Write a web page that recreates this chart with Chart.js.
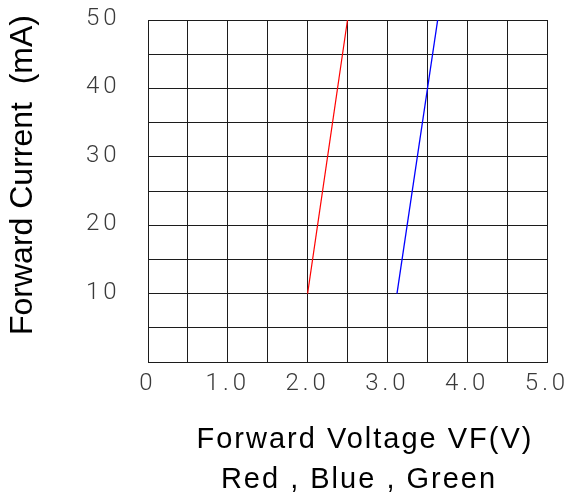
<!DOCTYPE html>
<html>
<head>
<meta charset="utf-8">
<script src="https://cdn.jsdelivr.net/npm/chart.js@4"></script>
<style>
  html, body { margin: 0; padding: 0; background: #fff; }
  #wrap { width: 567px; height: 495px; }
</style>
</head>
<body>
<div id="wrap"><canvas id="c" width="567" height="495"></canvas></div>
<script>
// ---- data ----
const redVoltage = [2.0, 2.5];
const redCurrent = [10, 50];
const blueVoltage = [3.12, 3.63];
const blueCurrent = [10, 50];

const xTickValues = [0, 1, 2, 3, 4, 5];
const xTickLabels = ['0', '1.0', '2.0', '3.0', '4.0', '5.0'];
const yTickValues = [10, 20, 30, 40, 50];
const yTickLabels = ['10', '20', '30', '40', '50'];

const yTitle = 'Forward Current  (mA)';
const xTitleLines = ['Forward Voltage VF(V)', 'Red , Blue , Green'];

function toPoints(xs, ys) { return xs.map((x, i) => ({ x: x, y: ys[i] })); }

const gridColor = '#1c1c1c';

const spacingPlugin = {
  id: 'tickSpacing',
  beforeDraw(chart) { chart.ctx.letterSpacing = '4px'; },
  beforeDatasetsDraw(chart) { chart.ctx.letterSpacing = '0px'; },
  afterDraw(chart) {
    const ctx = chart.ctx;
    ctx.save();
    ctx.fillStyle = '#000';
    // y title (rotated)
    ctx.letterSpacing = '0px';
    ctx.font = '32px "Liberation Sans", Arial, sans-serif';
    ctx.translate(32, 175);
    ctx.rotate(-Math.PI / 2);
    ctx.textAlign = 'center';
    ctx.textBaseline = 'alphabetic';
    ctx.fillText(yTitle, 0, 0);
    ctx.restore();

    ctx.save();
    ctx.fillStyle = '#000';
    ctx.letterSpacing = '2px';
    ctx.font = '29px "Liberation Sans", Arial, sans-serif';
    ctx.textAlign = 'center';
    ctx.textBaseline = 'alphabetic';
    ctx.fillText(xTitleLines[0], 365, 448);
    ctx.fillText(xTitleLines[1], 359, 488);
    ctx.restore();
    ctx.letterSpacing = '0px';
  }
};

new Chart(document.getElementById('c'), {
  type: 'scatter',
  data: {
    datasets: [
      { label: 'Red', data: toPoints(redVoltage, redCurrent), showLine: true,
        borderColor: '#ff0000', backgroundColor: '#ff0000', borderWidth: 1.2, pointRadius: 0 },
      { label: 'Blue', data: toPoints(blueVoltage, blueCurrent), showLine: true,
        borderColor: '#0000ff', backgroundColor: '#0000ff', borderWidth: 1.3, pointRadius: 0 }
    ]
  },
  options: {
    responsive: false,
    animation: false,
    devicePixelRatio: 1,
    layout: { autoPadding: false, padding: { left: 86, top: 20, right: 20, bottom: 0 } },
    plugins: { legend: { display: false }, tooltip: { enabled: false }, title: { display: false } },
    scales: {
      x: {
        type: 'linear', min: 0, max: 5,
        afterFit(s) { s.height = 133; s.paddingLeft = 0; s.paddingRight = 0; },
        grid: { color: gridColor, lineWidth: 1, drawTicks: false },
        border: { color: gridColor, width: 1 },
        ticks: {
          stepSize: 0.5, autoSkip: false, maxRotation: 0, padding: 8,
          color: '#3a3a3a',
          font: { family: 'Roboto', size: 24, weight: '300' },
          callback(v) { const i = xTickValues.indexOf(v); return i >= 0 ? xTickLabels[i] : ''; }
        }
      },
      y: {
        type: 'linear', min: 0, max: 50,
        afterFit(s) { s.width = 62; s.paddingTop = 0; s.paddingBottom = 0; },
        grid: { color: gridColor, lineWidth: 1, drawTicks: false },
        border: { color: gridColor, width: 1 },
        ticks: {
          stepSize: 5, autoSkip: false, crossAlign: 'far', labelOffset: -1,
          color: '#3a3a3a',
          font: { family: 'Roboto', size: 24, weight: '300' },
          callback(v) { const i = yTickValues.indexOf(v); return i >= 0 ? yTickLabels[i] : ''; }
        }
      }
    }
  },
  plugins: [spacingPlugin]
});
</script>
</body>
</html>
